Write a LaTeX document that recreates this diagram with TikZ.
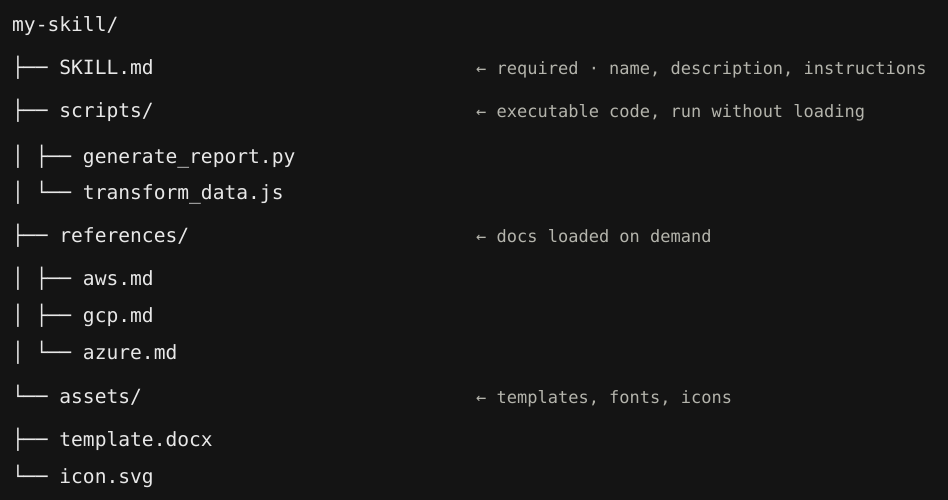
\documentclass[tikz,border=0pt]{standalone}
\usepackage{fontspec}
\newfontfamily\treemono{DejaVu Sans Mono}
\definecolor{bgcol}{HTML}{141414}
\definecolor{namecol}{HTML}{E8E8E8}
\definecolor{notecol}{HTML}{B4B4AC}
\tikzset{
  entry/.style={anchor=base west, inner sep=0pt, text=namecol, font=\treemono\fontsize{19.6}{22}\selectfont},
  note/.style={anchor=base west, inner sep=0pt, text=notecol, font=\treemono\fontsize{17}{20}\selectfont}
}
\begin{document}
\begin{tikzpicture}[x=1pt,y=1pt]
\fill[bgcol] (0,0) rectangle (948,-500);
\useasboundingbox (0,0) rectangle (948,-500);
\node[entry] (root) at (12,-32) {my-skill/};
\node[entry] (skill) at (12,-75) {├── SKILL.md};
\node[entry] (scripts) at (12,-118) {├── scripts/};
\node[entry] (genrep) at (12,-164) {│ ├── generate\_report.py};
\node[entry] (trans) at (12,-199) {│ └── transform\_data.js};
\node[entry] (refs) at (12,-242) {├── references/};
\node[entry] (aws) at (12,-285) {│ ├── aws.md};
\node[entry] (gcp) at (12,-322) {│ ├── gcp.md};
\node[entry] (azure) at (12,-359) {│ └── azure.md};
\node[entry] (assets) at (12,-403) {└── assets/};
\node[entry] (tmpl) at (12,-446) {├── template.docx};
\node[entry] (icon) at (12,-483) {└── icon.svg};
\node[note] (nskill) at (476,-75) {← required · name, description, instructions};
\node[note] (nscripts) at (476,-118) {← executable code, run without loading};
\node[note] (nrefs) at (476,-242) {← docs loaded on demand};
\node[note] (nassets) at (476,-403) {← templates, fonts, icons};
\end{tikzpicture}
\end{document}
